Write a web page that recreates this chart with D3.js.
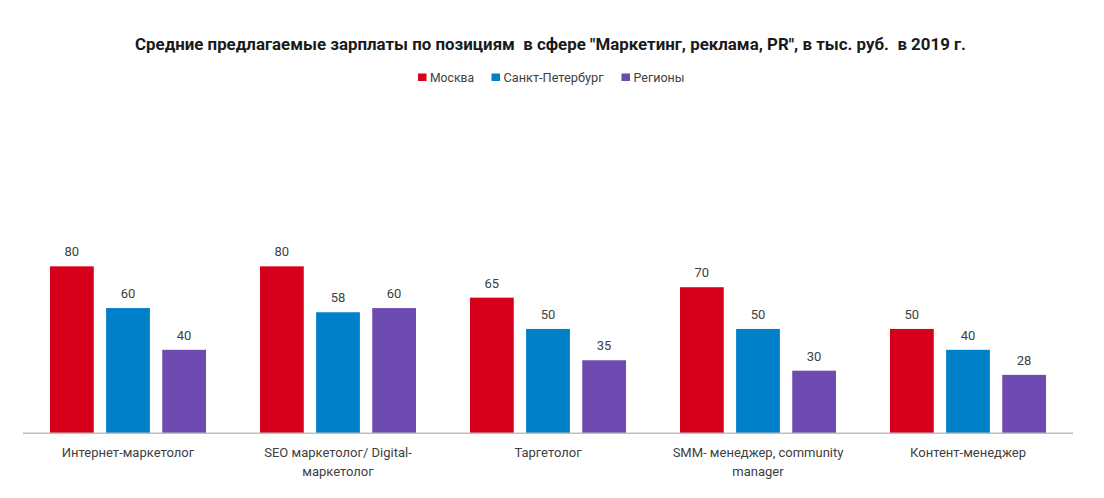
<!DOCTYPE html>
<html><head><meta charset="utf-8">
<script src="https://cdn.jsdelivr.net/npm/d3@7/dist/d3.min.js"></script>
<style>
html,body{margin:0;padding:0;background:#fff;}
svg text{font-family:Roboto,"Noto Sans",sans-serif;}
</style></head>
<body>
<svg id="chart" width="1104" height="498"></svg>
<script>
const categories = ["Интернет-маркетолог", "SEO маркетолог/ Digital-\nмаркетолог", "Таргетолог", "SMM- менеджер, community\nmanager", "Контент-менеджер"];
const seriesNames = ["Москва", "Санкт-Петербург", "Регионы"];
const moscow = [80, 80, 65, 70, 50];
const spb = [60, 58, 50, 50, 40];
const regions = [40, 60, 35, 30, 28];
const seriesColors = ["#d6001c", "#0080c9", "#6e4bb1"];
const title = "Средние предлагаемые зарплаты по позициям  в сфере \"Маркетинг, реклама, PR\", в тыс. руб.  в 2019 г.";

const seriesValues = [moscow, spb, regions];
const svg = d3.select("#chart");

// Title
svg.append("text")
  .attr("x", 550.5).attr("y", 49.5)
  .attr("text-anchor", "middle")
  .attr("font-size", 17).attr("font-weight", 700).attr("fill", "#1a1a1a")
  .attr("textLength", 831).attr("lengthAdjust", "spacingAndGlyphs")
  .style("white-space", "pre")
  .text(title);

// Legend
const legendX = [418, 491.5, 621.5];
const legendW = [44, 100, 51];
const lg = svg.append("g");
seriesNames.forEach((name, i) => {
  lg.append("rect").attr("x", legendX[i]).attr("y", 73.5).attr("width", 8.5).attr("height", 7.5).attr("fill", seriesColors[i]);
  lg.append("text").attr("x", legendX[i] + 12).attr("y", 81.5)
    .attr("font-size", 12).attr("fill", "#404040")
    .attr("textLength", legendW[i]).attr("lengthAdjust", "spacingAndGlyphs")
    .text(name);
});

// Scales
const x0 = d3.scaleBand().domain(categories).range([23, 1073]).paddingInner(0.257).paddingOuter(0.1285);
const x1 = d3.scaleBand().domain(seriesNames).range([0, x0.bandwidth()]).paddingInner(0.22);
const y = d3.scaleLinear().domain([0, 100]).range([433.3, 224.6]);

const groups = svg.append("g").selectAll("g").data(categories).join("g")
  .attr("transform", d => `translate(${x0(d)},0)`);

groups.selectAll("rect").data((d, ci) => seriesNames.map((s, si) => ({s, si, v: seriesValues[si][ci]})))
  .join("rect")
  .attr("x", d => x1(d.s)).attr("width", x1.bandwidth())
  .attr("y", d => y(d.v)).attr("height", d => y(0) - y(d.v))
  .attr("fill", d => seriesColors[d.si]);

groups.selectAll("text.val").data((d, ci) => seriesNames.map((s, si) => ({s, si, v: seriesValues[si][ci]})))
  .join("text").attr("class", "val")
  .attr("x", d => x1(d.s) + x1.bandwidth() / 2).attr("y", d => y(d.v) - 10)
  .attr("text-anchor", "middle").attr("font-size", 13).attr("fill", "#404040")
  .text(d => d.v);

// Axis
const xAxis = d3.axisBottom(x0).tickSize(0).tickFormat("");
const ax = svg.append("g").attr("transform", `translate(0,${y(0)})`).call(xAxis);
ax.select(".domain").attr("stroke", "#bfbfbf").attr("stroke-width", 1.4).attr("d", "M23,0H1073");

// Category labels
ax.selectAll(".tick").each(function(d) {
  const t = d3.select(this).append("text")
    .attr("text-anchor", "middle").attr("font-size", 13).attr("fill", "#404040")
    .attr("y", 23.5);
  d.split("\n").forEach((line, i) => {
    t.append("tspan").attr("x", 0).attr("dy", i === 0 ? 0 : 19).text(line);
  });
});
</script>
</body></html>
